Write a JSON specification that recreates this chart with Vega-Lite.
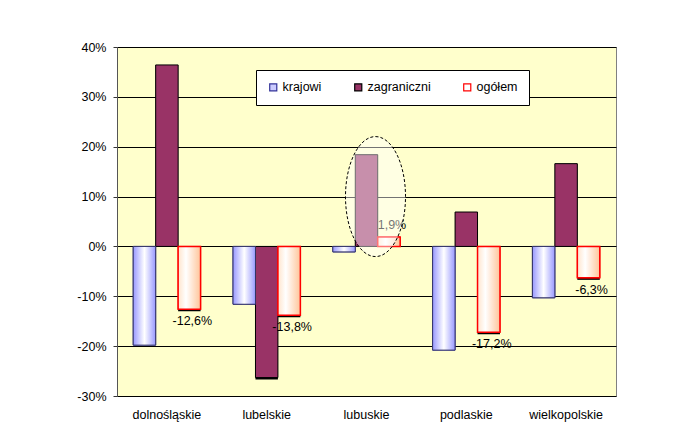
{
  "$schema": "https://vega.github.io/schema/vega-lite/v6.json",
  "width": 499,
  "height": 349,
  "autosize": "none",
  "padding": {"left": 117, "top": 47, "right": 67, "bottom": 35},
  "background": "#FFFFFF",
  "config": {
    "locale": {"number": {"decimal": ",", "thousands": " ", "grouping": [3], "currency": ["", " zł"], "minus": "-"}},
    "view": {"fill": "#FFFFCC", "stroke": "#808080", "strokeWidth": 1},
    "font": "Liberation Sans",
    "axis": {"labelFont": "Liberation Sans", "labelFontSize": 12.5, "labelColor": "#000000", "titleFont": "Liberation Sans"},
    "legend": {"labelFont": "Liberation Sans", "labelFontSize": 12.5, "labelColor": "#000000"}
  },
  "data": {
    "values": [
      {"region": "dolnośląskie", "series": "krajowi", "value": -0.198},
      {"region": "dolnośląskie", "series": "zagraniczni", "value": 0.364},
      {"region": "dolnośląskie", "series": "ogółem", "value": -0.126},
      {"region": "lubelskie", "series": "krajowi", "value": -0.116},
      {"region": "lubelskie", "series": "zagraniczni", "value": -0.263},
      {"region": "lubelskie", "series": "ogółem", "value": -0.138},
      {"region": "lubuskie", "series": "krajowi", "value": -0.011},
      {"region": "lubuskie", "series": "zagraniczni", "value": 0.184},
      {"region": "lubuskie", "series": "ogółem", "value": 0.019},
      {"region": "podlaskie", "series": "krajowi", "value": -0.208},
      {"region": "podlaskie", "series": "zagraniczni", "value": 0.069},
      {"region": "podlaskie", "series": "ogółem", "value": -0.172},
      {"region": "wielkopolskie", "series": "krajowi", "value": -0.103},
      {"region": "wielkopolskie", "series": "zagraniczni", "value": 0.166},
      {"region": "wielkopolskie", "series": "ogółem", "value": -0.063}
    ]
  },
  "layer": [
    {
      "transform": [{"filter": "datum.series != 'krajowi'"}],
      "mark": {"type": "bar", "fill": "#000000", "xOffset": 2, "yOffset": {"expr": "datum.value < 0 ? 2 : 0"}},
      "encoding": {
        "x": {"field": "region", "type": "nominal", "sort": null,
              "scale": {"paddingInner": 0.325, "paddingOuter": 0.1625},
              "axis": {"title": null, "labelAngle": 0, "domain": false, "ticks": false, "labelPadding": 12}},
        "xOffset": {"field": "series", "type": "nominal", "sort": ["krajowi", "zagraniczni", "ogółem"],
                    "scale": {"domain": ["krajowi", "zagraniczni", "ogółem"], "paddingInner": 0, "paddingOuter": 0}},
        "y": {"field": "value", "type": "quantitative",
              "scale": {"domain": [-0.3, 0.4], "nice": false, "zero": false},
              "axis": {"title": null, "format": ".0%", "values": [-0.3, -0.2, -0.1, 0, 0.1, 0.2, 0.3, 0.4],
                       "grid": true, "gridColor": "#000000", "gridWidth": 1, "gridOpacity": 1,
                       "domainColor": "#555555", "tickColor": "#333333", "tickSize": 4, "labelPadding": 7}}
      }
    },
    {
      "mark": {"type": "bar", "strokeWidth": 1},
      "encoding": {
        "x": {"field": "region", "type": "nominal", "sort": null},
        "xOffset": {"field": "series", "type": "nominal", "sort": ["krajowi", "zagraniczni", "ogółem"]},
        "y": {"field": "value", "type": "quantitative"},
        "color": {"field": "series", "type": "nominal",
                  "scale": {"domain": ["krajowi", "zagraniczni", "ogółem"], "range": ["#CCCCFF", "#993366", "#FFFFFF"]},
                  "legend": {"title": null, "orient": "none", "legendX": 139, "legendY": 23, "direction": "horizontal",
                             "symbolType": "square", "symbolSize": 50, "symbolStrokeWidth": 1.2, "columnPadding": 30,
                             "padding": 11, "fillColor": "#FFFFFF", "strokeColor": "#000000", "labelOffset": 3}},
        "stroke": {"field": "series", "type": "nominal",
                   "scale": {"domain": ["krajowi", "zagraniczni", "ogółem"], "range": ["#333399", "#000000", "#FF0000"]},
                   "legend": null}
      }
    },
    {
      "transform": [{"filter": "datum.series == 'krajowi'"}],
      "mark": {"type": "bar", "stroke": "#333366", "strokeWidth": 1,
               "fill": {"gradient": "linear", "x1": 0, "y1": 0, "x2": 1, "y2": 0,
                        "stops": [{"offset": 0, "color": "#9999FF"}, {"offset": 0.5, "color": "#FFFFFF"}, {"offset": 1, "color": "#9999FF"}]}},
      "encoding": {
        "x": {"field": "region", "type": "nominal", "sort": null},
        "xOffset": {"field": "series", "type": "nominal", "sort": ["krajowi", "zagraniczni", "ogółem"]},
        "y": {"field": "value", "type": "quantitative"}
      }
    },
    {
      "transform": [{"filter": "datum.series == 'ogółem'"}],
      "mark": {"type": "bar", "stroke": "#FF0000", "strokeWidth": 1.5,
               "fill": {"gradient": "linear", "x1": 0, "y1": 0, "x2": 1, "y2": 0,
                        "stops": [{"offset": 0, "color": "#FFE4CC"}, {"offset": 0.35, "color": "#FFFFFF"}, {"offset": 1, "color": "#FFC59A"}]}},
      "encoding": {
        "x": {"field": "region", "type": "nominal", "sort": null},
        "xOffset": {"field": "series", "type": "nominal", "sort": ["krajowi", "zagraniczni", "ogółem"]},
        "y": {"field": "value", "type": "quantitative"}
      }
    },
    {
      "transform": [{"filter": "datum.series == 'ogółem'"}],
      "mark": {"type": "text", "baseline": "middle", "align": "center", "fontSize": 12.5, "color": "#000000",
               "dy": {"expr": "datum.value < 0 ? 12 : -12"}, "dx": 3},
      "encoding": {
        "x": {"field": "region", "type": "nominal", "sort": null},
        "xOffset": {"field": "series", "type": "nominal", "sort": ["krajowi", "zagraniczni", "ogółem"]},
        "y": {"field": "value", "type": "quantitative"},
        "text": {"field": "value", "type": "quantitative", "format": ".1%"}
      }
    },
    {
      "data": {"values": [{"region": "lubuskie", "value": 0.10}]},
      "mark": {"type": "point", "filled": false, "size": 14400, "xOffset": 9,
               "shape": "M 0 -1 A 0.5 1 0 1 1 0 1 A 0.5 1 0 1 1 0 -1 Z",
               "stroke": "#000000", "strokeWidth": 1, "strokeDash": [3, 2], "strokeOpacity": 1,
               "fill": "#FFFFFF", "fillOpacity": 0.45, "opacity": 1},
      "encoding": {
        "x": {"field": "region", "type": "nominal", "sort": null},
        "y": {"field": "value", "type": "quantitative"}
      }
    }
  ]
}
